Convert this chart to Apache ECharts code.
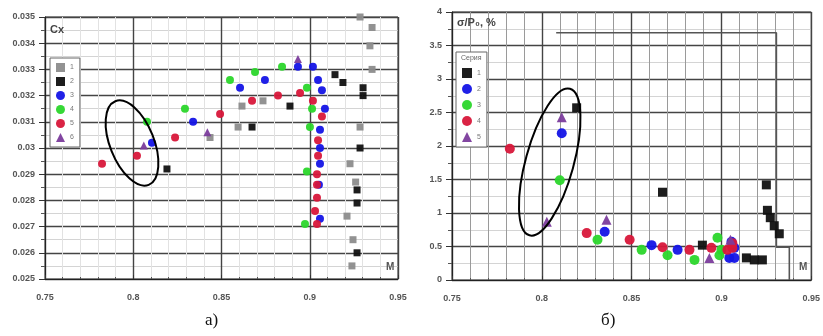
<!DOCTYPE html>
<html><head><meta charset="utf-8">
<script src="https://cdn.jsdelivr.net/npm/echarts@6/dist/echarts.min.js"></script>
<style>html,body{margin:0;padding:0;background:#fff}#c{width:823px;height:336px}</style>
</head><body><div id="c"></div>
<script>
// ---- chart a) : axis ticks ----
const aXTicks = [0.75, 0.8, 0.85, 0.9, 0.95];
const aYTicks = [0.025, 0.026, 0.027, 0.028, 0.029, 0.03, 0.031, 0.032, 0.033, 0.034, 0.035];
// ---- chart a) : series [M, Cx] ----
const aS1 = [[0.8435,0.0304],[0.8594,0.0308],[0.8616,0.0316],[0.8735,0.0318],[0.9285,0.0350],[0.9353,0.0346],[0.9341,0.0339],[0.9353,0.0330],[0.9285,0.0308],[0.9228,0.0294],[0.926,0.0287],[0.9211,0.0274],[0.9245,0.0265],[0.9239,0.0255]];
const aS2 = [[0.8191,0.0292],[0.8673,0.0308],[0.8888,0.0316],[0.9143,0.0328],[0.9188,0.0325],[0.9302,0.0323],[0.9302,0.0320],[0.9285,0.0300],[0.9268,0.0284],[0.9268,0.0279],[0.9268,0.0260]];
const aS3 = [[0.8106,0.0302],[0.8339,0.0310],[0.8605,0.0323],[0.8746,0.0326],[0.8933,0.0331],[0.9018,0.0331],[0.9047,0.0326],[0.9069,0.0322],[0.9086,0.0315],[0.9058,0.0307],[0.9058,0.0300],[0.9058,0.0294],[0.9052,0.0286],[0.9058,0.0273]];
const aS4 = [[0.8078,0.0310],[0.8293,0.0315],[0.8548,0.0326],[0.8690,0.0329],[0.8843,0.0331],[0.8984,0.0323],[0.9013,0.0315],[0.9001,0.0308],[0.8984,0.0291],[0.8973,0.0271]];
const aS5 = [[0.7823,0.0294],[0.8021,0.0297],[0.8237,0.0304],[0.8492,0.0313],[0.8673,0.0318],[0.8820,0.0320],[0.8945,0.0321],[0.9018,0.0318],[0.9069,0.0312],[0.9047,0.0303],[0.9047,0.0297],[0.9041,0.0290],[0.9041,0.0286],[0.9041,0.0281],[0.9030,0.0276],[0.9041,0.0271]];
const aS6 = [[0.8933,0.0334],[0.8420,0.0306],[0.8060,0.0301]];
// ---- chart b) : axis ticks ----
const bXTicks = [0.75, 0.8, 0.85, 0.9, 0.95];
const bYTicks = [0, 0.5, 1, 1.5, 2, 2.5, 3, 3.5, 4];
// ---- chart b) : series [M, σ/P0 %] ----
const bS1 = [[0.8194,2.57],[0.8672,1.31],[0.925,1.42],[0.9256,1.04],[0.9272,0.93],[0.9294,0.81],[0.9322,0.69],[0.8894,0.52],[0.9139,0.33],[0.9183,0.30],[0.9228,0.30]];
const bS2 = [[0.8111,2.19],[0.835,0.72],[0.8611,0.52],[0.8756,0.45],[0.9056,0.57],[0.9044,0.33],[0.9072,0.33],[0.9072,0.48]];
const bS3 = [[0.81,1.49],[0.831,0.60],[0.8556,0.45],[0.87,0.37],[0.885,0.30],[0.8978,0.63],[0.8989,0.37],[0.9,0.45]];
const bS4 = [[0.7822,1.96],[0.825,0.70],[0.8489,0.60],[0.8672,0.49],[0.8822,0.45],[0.8944,0.48],[0.9033,0.45],[0.9061,0.48],[0.9061,0.55]];
const bS5 = [[0.8111,2.43],[0.8028,0.87],[0.836,0.90],[0.8933,0.33],[0.905,0.60]];
const bInset = [[0.808,3.69],[0.9306,3.69],[0.9306,0.49],[0.9378,0.49],[0.9378,0]];
// annotation ellipses (centre in data units)
const aEllipse = [0.7993, 0.03019];
const bEllipse = [0.8044, 1.76];

const chart = echarts.init(document.getElementById('c'));
const lab = {color:'#555', fontSize:9, fontWeight:'bold', fontFamily:'Liberation Sans'};
const fmt = v => String(parseFloat(Number(v).toFixed(4)));
function xAx(gi, ticks, minorColor){
  return {gridIndex:gi, type:'value', min:ticks[0], max:ticks[ticks.length-1], interval:0.05,
    axisLine:{onZero:false, lineStyle:{color:'#222'}}, axisTick:{show:true, inside:true, length:4, lineStyle:{color:'#333'}},
    minorTick:{show:true, splitNumber:5, length:2, lineStyle:{color:'#555'}},
    axisLabel:Object.assign({formatter:fmt, margin:14}, lab),
    splitLine:{show:true, lineStyle:{color:'#444', width:1.4}},
    minorSplitLine:{show:true, lineStyle:{color:minorColor, width:1}}};
}
function yAx(gi, ticks, interval){
  return {gridIndex:gi, type:'value', min:ticks[0], max:ticks[ticks.length-1], interval:interval,
    axisLine:{onZero:false, lineStyle:{color:'#222'}}, axisTick:{show:true, length:6, lineStyle:{color:'#333'}},
    minorTick:{show:true, splitNumber:2, length:4, lineStyle:{color:'#555'}},
    axisLabel:Object.assign({formatter:fmt, margin:10}, lab),
    splitLine:{show:true, lineStyle:{color:'#444', width:1.4}},
    minorSplitLine:{show:true, lineStyle:{color:'#d4d4d4', width:1}}};
}
function sc(name, xi, data, color, symbol, size){
  return {name:name, type:'scatter', xAxisIndex:xi, yAxisIndex:xi, data:data, symbol:symbol, symbolSize:size,
    itemStyle:{color:color, opacity:0.95}, z:5};
}
const cGray='#8c8c8c', cBlack='#111111', cBlue='#1414e6', cGreen='#2bd62b', cRed='#d8173a', cPurple='#7b3c9c';
const option = {
  animation:false, backgroundColor:'#fff',
  grid:[
    {left:45, top:17, width:353, height:262, show:true, borderColor:'#333', borderWidth:1},
    {left:452, top:12, width:360, height:268, show:true, borderColor:'#333', borderWidth:1}
  ],
  xAxis:[xAx(0, aXTicks, '#e2e2e2'), xAx(1, bXTicks, '#9a9a9a')],
  yAxis:[yAx(0, aYTicks, 0.001), yAx(1, bYTicks, 0.5)],
  legend:[
    {data:['L1','L2','L3','L4','L5','L6'], orient:'vertical', left:50, top:58, itemWidth:9, itemHeight:9, itemGap:5,
     formatter:n=>n.slice(1), textStyle:{fontSize:7, color:'#777'}, borderColor:'#666', borderWidth:1, padding:[5,6], backgroundColor:'#fff', selectedMode:false},
    {data:['R1','R2','R3','R4','R5'], orient:'vertical', left:456, top:52, itemWidth:10, itemHeight:10, itemGap:6,
     formatter:n=>n.slice(1), textStyle:{fontSize:7, color:'#777'}, borderColor:'#666', borderWidth:1, padding:[16,6,5,6], backgroundColor:'#fff', selectedMode:false}
  ],
  series:[
    sc('L1',0,aS1,cGray,'rect',7), sc('L2',0,aS2,cBlack,'rect',7), sc('L3',0,aS3,cBlue,'circle',8),
    sc('L4',0,aS4,cGreen,'circle',8), sc('L5',0,aS5,cRed,'circle',8), sc('L6',0,aS6,cPurple,'triangle',8),
    sc('R1',1,bS1,cBlack,'rect',9), sc('R2',1,bS2,cBlue,'circle',10), sc('R3',1,bS3,cGreen,'circle',10),
    sc('R4',1,bS4,cRed,'circle',10), sc('R5',1,bS5,cPurple,'triangle',10),
    {name:'inset', type:'line', xAxisIndex:1, yAxisIndex:1, data:bInset, symbol:'none', lineStyle:{color:'#555', width:1.6}, z:3}
  ]
};
chart.setOption(option);
const pa = chart.convertToPixel({gridIndex:0}, aEllipse);
const pb = chart.convertToPixel({gridIndex:1}, bEllipse);
chart.setOption({graphic:[
  {type:'ellipse', x:pa[0], y:pa[1], rotation:0.38, shape:{cx:0, cy:0, rx:22, ry:45}, style:{fill:'none', stroke:'#000', lineWidth:2}, z:20},
  {type:'ellipse', x:pb[0], y:pb[1], rotation:-0.27, shape:{cx:0, cy:0, rx:24, ry:76}, style:{fill:'none', stroke:'#000', lineWidth:2}, z:20},
  {type:'text', left:50, top:24, style:{text:'Cx', fontSize:11, fontWeight:'bold', fill:'#444', fontFamily:'Liberation Sans'}, z:20},
  {type:'text', left:457, top:17, style:{text:'σ/P₀, %', fontSize:11, fontWeight:'bold', fill:'#444', fontFamily:'Liberation Sans'}, z:20},
  {type:'text', left:461, top:55, style:{text:'Серия', fontSize:7, fill:'#666', fontFamily:'Liberation Sans'}, z:20},
  {type:'text', left:386, top:262, style:{text:'M', fontSize:10, fontWeight:'bold', fill:'#555', fontFamily:'Liberation Sans'}, z:20},
  {type:'text', left:799, top:262, style:{text:'M', fontSize:10, fontWeight:'bold', fill:'#555', fontFamily:'Liberation Sans'}, z:20},
  {type:'text', left:205, top:312, style:{text:'а)', fontSize:17, fill:'#111', fontFamily:'Liberation Serif'}, z:20},
  {type:'text', left:601, top:312, style:{text:'б)', fontSize:17, fill:'#111', fontFamily:'Liberation Serif'}, z:20}
]});
</script></body></html>
